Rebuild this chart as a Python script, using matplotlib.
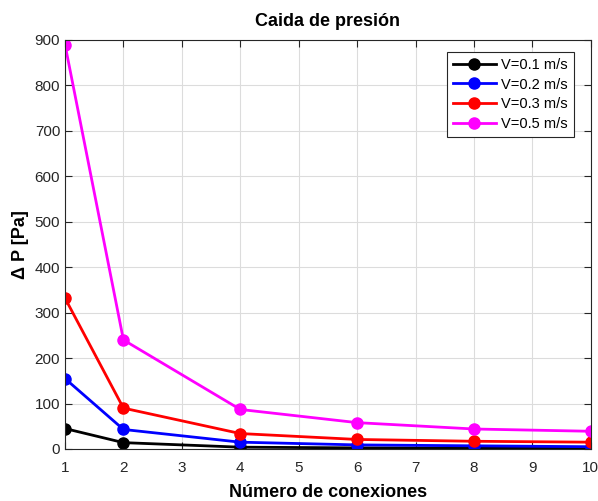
import matplotlib.pyplot as plt

plt.rcParams['font.family'] = ['Liberation Sans', 'DejaVu Sans']

conexiones = [1, 2, 4, 6, 8, 10]
dp_v01 = [45, 14, 4, 2.5, 2, 1.5]
dp_v02 = [155, 43, 15, 9, 7, 5]
dp_v03 = [332, 90, 34, 21, 17, 15]
dp_v05 = [890, 240, 87, 58, 44, 39]

series = [
    (dp_v01, '#000000', 'V=0.1 m/s'),
    (dp_v02, '#0000ff', 'V=0.2 m/s'),
    (dp_v03, '#ff0000', 'V=0.3 m/s'),
    (dp_v05, '#ff00ff', 'V=0.5 m/s'),
]

fig = plt.figure(figsize=(5.98, 5.01), dpi=100)
ax = fig.add_axes([0.1087, 0.1038, 0.8793, 0.8164])

for vals, col, lab in series:
    ax.plot(conexiones, vals, '-o', color=col, lw=2, ms=8, label=lab)

ax.set_xlim(1, 10)
ax.set_ylim(0, 900)
ax.set_xticks(range(1, 11))
ax.set_yticks(range(0, 901, 100))
ax.grid(True, color='#dcdcdc', lw=0.8)
ax.set_axisbelow(True)
ax.tick_params(direction='in', top=True, right=True, labelsize=11, colors='#262626', length=5)
ax.tick_params(axis='x', pad=9)
for s in ax.spines.values():
    s.set_color('#262626')

ax.set_title('Caida de presión', fontsize=13, fontweight='bold', pad=10)
ax.set_xlabel('Número de conexiones', fontsize=13, fontweight='bold', labelpad=6)
ax.set_ylabel('Δ P [Pa]', fontsize=13, fontweight='bold', labelpad=4)

leg = ax.legend(loc='upper right', bbox_to_anchor=(0.9677, 0.971), borderaxespad=0,
                fontsize=10.5, fancybox=False, framealpha=1, edgecolor='#262626',
                handlelength=3, handletextpad=0.35, borderpad=0.4, labelspacing=0.4)
leg.get_frame().set_linewidth(0.8)

fig.savefig('out.png', dpi=100)
